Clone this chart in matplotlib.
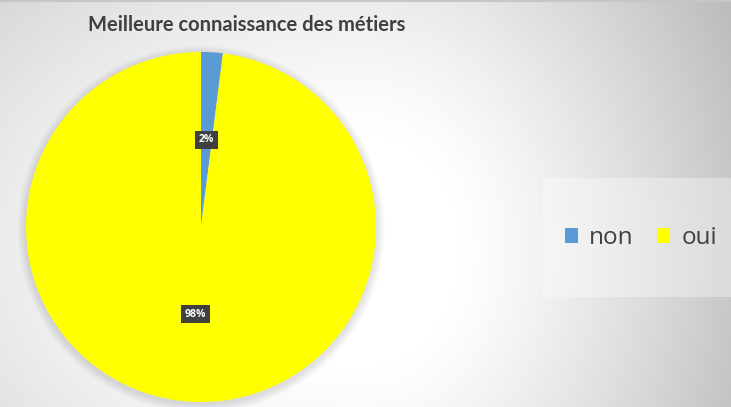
import numpy as np
import matplotlib
matplotlib.use("Agg")
import matplotlib.pyplot as plt
from matplotlib.patches import Rectangle, Circle, Patch

# Data
categories = ["non", "oui"]
values = [2, 98]
colors = ["#5B9BD5", "#FFFF00"]
title = "Meilleure connaissance des métiers"

W, H = 731, 407
fig = plt.figure(figsize=(W / 100, H / 100), dpi=100)

# Background gradient
bg = fig.add_axes([0, 0, 1, 1], zorder=0)
yy, xx = np.mgrid[0:H, 0:W]
cx, cy = 360, 250
dx = np.where(xx < cx, (xx - cx) * 0.6, (xx - cx))
dy = (yy - cy) * 0.85
d = np.sqrt(dx ** 2 + dy ** 2)
t = np.clip((d - 100) / 330, 0, 1) ** 1.2
g = 1.0 - 0.27 * t
img = np.dstack([g, g, g])
bg.imshow(img, extent=[0, W, H, 0], aspect="auto", interpolation="bilinear")
bg.set_xlim(0, W)
bg.set_ylim(H, 0)
bg.axis("off")
# top border line
bg.plot([0, W], [1, 1], color="#c6c6c6", lw=1.5)
# legend panel
bg.add_patch(Rectangle((543, 178), W - 543, 119, facecolor="white", alpha=0.35,
                       edgecolor="none"))

# Pie
cxp, cyp, r = 201, 227, 175
ax = fig.add_axes([(cxp - r) / W, (H - cyp - r) / H, 2 * r / W, 2 * r / H], zorder=2)
# soft shadow
for i in range(10):
    rr = 1.0 + 0.005 * (i + 1)
    ax.add_patch(Circle((0.0, -0.012), rr, facecolor="black", alpha=0.012,
                        edgecolor="none", zorder=0, clip_on=False))
wedges, texts, autotexts = ax.pie(
    values, colors=colors, startangle=90, counterclock=False,
    autopct="%1.0f%%", pctdistance=0.5, radius=1.0,
    wedgeprops=dict(linewidth=0),
    textprops=dict(color="white", fontsize=7.5, fontweight="bold", family="Open Sans"),
)
for w in wedges:
    w.set_clip_on(False)
for at in autotexts:
    at.set_bbox(dict(boxstyle="square,pad=0.35", facecolor="#404040", edgecolor="none"))
    at.set_zorder(5)
ax.set_xlim(-1, 1)
ax.set_ylim(-1, 1)
ax.set_aspect("equal")
ax.axis("off")

# Title
fig.text(247 / W, 1 - 25 / H, title, ha="center", va="center", fontsize=14.5,
         fontweight="bold", color="#404040", family="Lato")

# Legend
handles = [Patch(facecolor=c, edgecolor="none") for c in colors]
leg = fig.legend(handles, categories, loc="center", bbox_to_anchor=(641 / W, 1 - 238 / H),
                 ncol=2, frameon=False, fontsize=17.5, handlelength=0.55, handleheight=0.55,
                 handletextpad=0.45, columnspacing=0.95)
for txt in leg.get_texts():
    txt.set_color("#404040")
    txt.set_family("Open Sans")
    txt.set_fontsize(17.5)

fig.savefig("out.png", dpi=100)
